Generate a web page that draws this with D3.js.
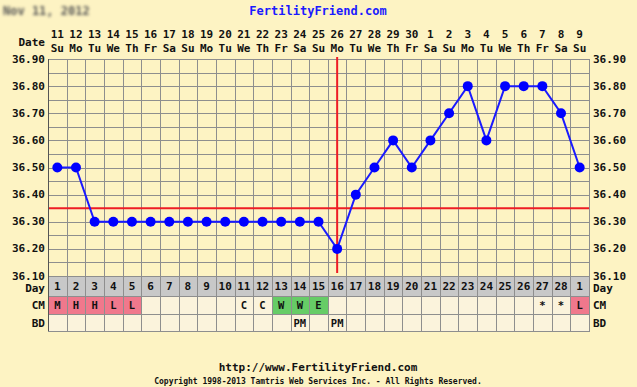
<!DOCTYPE html>
<html>
<head>
<meta charset="utf-8">
<script src="https://cdn.jsdelivr.net/npm/d3@7"></script>
<style>
  html, body { margin: 0; padding: 0; background: #fdf3c3; }
  svg { display: block; font-family: "DejaVu Sans Mono", monospace; font-weight: bold; }
</style>
</head>
<body>
<svg id="chart" width="637" height="387"></svg>
<script>
// chart values
const dates = [11,12,13,14,15,16,17,18,19,20,21,22,23,24,25,26,27,28,29,30,1,2,3,4,5,6,7,8,9];
const weekdays = ['Su','Mo','Tu','We','Th','Fr','Sa','Su','Mo','Tu','We','Th','Fr','Sa','Su','Mo','Tu','We','Th','Fr','Sa','Su','Mo','Tu','We','Th','Fr','Sa','Su'];
const cycleDays = [1,2,3,4,5,6,7,8,9,10,11,12,13,14,15,16,17,18,19,20,21,22,23,24,25,26,27,28,1];
const temps = [36.50,36.50,36.30,36.30,36.30,36.30,36.30,36.30,36.30,36.30,36.30,36.30,36.30,36.30,36.30,36.20,36.40,36.50,36.60,36.50,36.60,36.70,36.80,36.60,36.80,36.80,36.80,36.70,36.50];
const cm = ['M','H','H','L','L','','','','','','C','C','W','W','E','','','','','','','','','','','','*','*','L'];
const bd = ['','','','','','','','','','','','','','PM','','PM','','','','','','','','','','','','',''];
const yTicks = [36.10,36.20,36.30,36.40,36.50,36.60,36.70,36.80,36.90];
const coverline = 36.35;
const ovulationIndex = 15; // cycle day 16

const plot = { left: 48, right: 589, top: 59, bottom: 276 };
const rowH = [20, 18, 17];

const svg = d3.select('#chart');

const x = d3.scaleBand()
    .domain(d3.range(dates.length))
    .range([plot.left, plot.right]);

const y = d3.scaleLinear()
    .domain([36.10, 36.90])
    .range([plot.bottom, plot.top]);

// title
svg.append('text')
    .attr('x', 318).attr('y', 15)
    .attr('text-anchor', 'middle')
    .attr('fill', '#1a1aff')
    .attr('font-size', 12)
    .text('FertilityFriend.com');

svg.append('text')
    .attr('x', 3).attr('y', 15)
    .attr('fill', '#555')
    .attr('font-size', 12)
    .style('filter', 'blur(1.4px)')
    .text('Nov 11, 2012');

// date header
svg.append('text')
    .attr('x', 45).attr('y', 46)
    .attr('text-anchor', 'end')
    .attr('font-size', 11)
    .attr('fill', '#111')
    .text('Date');

const head = svg.append('g');
head.selectAll('text.d')
    .data(dates)
    .join('text')
    .attr('class', 'd')
    .attr('x', (d, i) => x(i) + x.bandwidth() / 2)
    .attr('y', 38)
    .attr('text-anchor', 'middle')
    .attr('font-size', 11)
    .attr('fill', '#111')
    .text(d => d);
head.selectAll('text.w')
    .data(weekdays)
    .join('text')
    .attr('class', 'w')
    .attr('x', (d, i) => x(i) + x.bandwidth() / 2)
    .attr('y', 52)
    .attr('text-anchor', 'middle')
    .attr('font-size', 11)
    .attr('fill', '#111')
    .text(d => d);

// plot background + grid
svg.append('rect')
    .attr('x', plot.left).attr('y', plot.top)
    .attr('width', plot.right - plot.left).attr('height', plot.bottom - plot.top)
    .attr('fill', '#fdf3c3');

const minor = d3.range(36.10, 36.9001, 0.05);
svg.append('g')
    .selectAll('line')
    .data(minor)
    .join('line')
    .attr('x1', plot.left).attr('x2', plot.right)
    .attr('y1', d => Math.round(y(d)) + 0.5).attr('y2', d => Math.round(y(d)) + 0.5)
    .attr('stroke', '#8e8e8e');

svg.append('g')
    .selectAll('line')
    .data(d3.range(dates.length + 1))
    .join('line')
    .attr('x1', i => Math.round(plot.left + i * x.bandwidth()) + 0.5)
    .attr('x2', i => Math.round(plot.left + i * x.bandwidth()) + 0.5)
    .attr('y1', plot.top).attr('y2', plot.bottom)
    .attr('stroke', (d, i) => (i === 0 ? '#555' : '#8e8e8e'));

// y labels
[['end', 45], ['start', 593]].forEach(([anchor, xx]) => {
    svg.append('g')
        .selectAll('text')
        .data(yTicks)
        .join('text')
        .attr('x', xx)
        .attr('y', d => y(d) + 3.5)
        .attr('text-anchor', anchor)
        .attr('font-size', 11)
        .attr('fill', '#111')
        .text(d => d.toFixed(2));
});

// coverline and ovulation line
svg.append('line')
    .attr('x1', plot.left).attr('x2', plot.right)
    .attr('y1', y(coverline)).attr('y2', y(coverline))
    .attr('stroke', '#ee1c24').attr('stroke-width', 2);

svg.append('line')
    .attr('x1', x(ovulationIndex) + x.bandwidth() / 2)
    .attr('x2', x(ovulationIndex) + x.bandwidth() / 2)
    .attr('y1', plot.top - 2).attr('y2', plot.bottom - 3)
    .attr('stroke', '#ee1c24').attr('stroke-width', 2);

// temperature line + points
const line = d3.line()
    .x((d, i) => x(i) + x.bandwidth() / 2)
    .y(d => y(d));

svg.append('path')
    .datum(temps)
    .attr('d', line)
    .attr('fill', 'none')
    .attr('stroke', '#1a1aff')
    .attr('stroke-width', 2);

svg.append('g')
    .selectAll('circle')
    .data(temps)
    .join('circle')
    .attr('cx', (d, i) => x(i) + x.bandwidth() / 2)
    .attr('cy', d => y(d))
    .attr('r', 5)
    .attr('fill', '#0000ff');

// table rows below the chart
const rows = [
    { label: 'Day', values: cycleDays, fill: () => '#c8c8c8' },
    { label: 'CM', values: cm, fill: v => (['M', 'H', 'L'].includes(v) ? '#f0788c' : ['W', 'E'].includes(v) ? '#66cc66' : '#fbf3dc') },
    { label: 'BD', values: bd, fill: () => '#fbf3dc' }
];

let rowTop = plot.bottom;
rows.forEach((row, r) => {
    const h = rowH[r];
    const g = svg.append('g');
    g.selectAll('rect')
        .data(row.values)
        .join('rect')
        .attr('x', (d, i) => Math.round(x(i)) + 0.5)
        .attr('y', rowTop + 0.5)
        .attr('width', (d, i) => Math.round(x(i) + x.bandwidth()) - Math.round(x(i)))
        .attr('height', h)
        .attr('fill', d => row.fill(d))
        .attr('stroke', '#8e8e8e');
    g.selectAll('text')
        .data(row.values)
        .join('text')
        .attr('x', (d, i) => x(i) + x.bandwidth() / 2)
        .attr('y', rowTop + h / 2 + 4)
        .attr('text-anchor', 'middle')
        .attr('font-size', r === 0 ? 11 : 10.5)
        .attr('fill', '#111')
        .text(d => d);
    const ly = rowTop + h / 2 + (r === 0 ? 5.5 : 4);
    svg.append('text')
        .attr('x', 45).attr('y', ly)
        .attr('text-anchor', 'end')
        .attr('font-size', 11).attr('fill', '#111')
        .text(row.label);
    svg.append('text')
        .attr('x', 593).attr('y', ly)
        .attr('text-anchor', 'start')
        .attr('font-size', 11).attr('fill', '#111')
        .text(row.label);
    rowTop += h;
});

// left border over the table
svg.append('line')
    .attr('x1', plot.left + 0.5).attr('x2', plot.left + 0.5)
    .attr('y1', plot.top).attr('y2', rowTop)
    .attr('stroke', '#555');

// footer
svg.append('text')
    .attr('x', 318).attr('y', 371)
    .attr('text-anchor', 'middle')
    .attr('font-size', 11)
    .attr('fill', '#111')
    .text('http://www.FertilityFriend.com');

svg.append('text')
    .attr('x', 318).attr('y', 384)
    .attr('text-anchor', 'middle')
    .attr('font-size', 8)
    .attr('fill', '#111')
    .text('Copyright 1998-2013 Tamtris Web Services Inc. - All Rights Reserved.');
</script>
</body>
</html>
